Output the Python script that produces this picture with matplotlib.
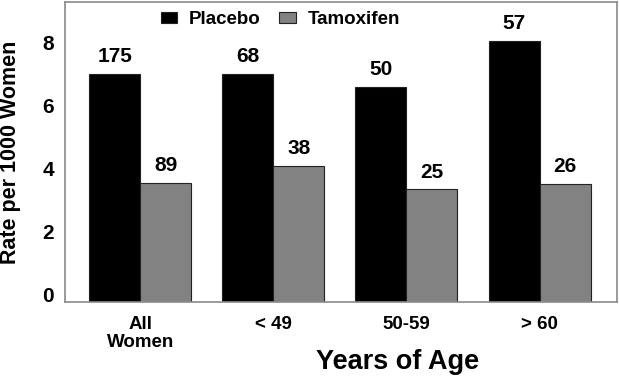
import numpy as np
import matplotlib
matplotlib.use("Agg")
import matplotlib.pyplot as plt

plt.rcParams['font.family'] = ['Liberation Sans', 'DejaVu Sans']
plt.rcParams['font.weight'] = 'bold'

groupes = ["All\nWomen", "< 49", "50-59", "> 60"]
placebo = [7.0, 7.0, 6.6, 8.05]
tamoxifen = [3.55, 4.07, 3.33, 3.51]
nb_placebo = [175, 68, 50, 57]
nb_tamoxifen = [89, 38, 25, 26]

base = -0.26
largeur = 0.383

fig = plt.figure(figsize=(6.19, 3.76), dpi=100)
ax = fig.add_axes([0.105, 0.196, 0.891, 0.8])

x = np.arange(len(groupes))
ax.bar(x - largeur / 2, np.array(placebo) - base, largeur, bottom=base,
       color="black", edgecolor="#222222", linewidth=0.8, label="Placebo")
ax.bar(x + largeur / 2, np.array(tamoxifen) - base, largeur, bottom=base,
       color="#828282", edgecolor="#222222", linewidth=0.8, label="Tamoxifen")

for xi, v, n in zip(x - largeur / 2, placebo, nb_placebo):
    ax.annotate(str(n), (xi, v), xytext=(0, 12.5), textcoords="offset points",
                ha="center", va="center", fontsize=15, fontweight="bold")
for xi, v, n in zip(x + largeur / 2, tamoxifen, nb_tamoxifen):
    ax.annotate(str(n), (xi, v), xytext=(0, 12.5), textcoords="offset points",
                ha="center", va="center", fontsize=15, fontweight="bold")

ax.set_xlim(-0.564, 3.577)
ax.set_ylim(base, 9.31)
ax.set_yticks([0, 2, 4, 6, 8])
ax.set_xticks(x)
ax.set_xticklabels(groupes, fontsize=13.5, fontweight="bold", linespacing=1.1)
ax.tick_params(axis="y", length=0, pad=8, labelsize=15)
ax.tick_params(axis="x", length=0, pad=10)
for s in ax.spines.values():
    s.set_color("#8a8a8a")
    s.set_linewidth(1.2)

ax.set_ylabel("Rate per 1000 Women", fontsize=15.5, fontweight="bold")
ax.yaxis.set_label_coords(-0.079, 0.5)
fig.text(0.642, 0.038, "Years of Age", ha="center", va="center",
         fontsize=19.5, fontweight="bold")

ax.legend(loc="upper center", bbox_to_anchor=(0.39, 1.0), ncol=2, frameon=False,
          fontsize=13.5, handlelength=0.9, handleheight=0.5, handletextpad=0.6,
          columnspacing=1.0, borderaxespad=0.1)

fig.savefig("out.png", dpi=100)
